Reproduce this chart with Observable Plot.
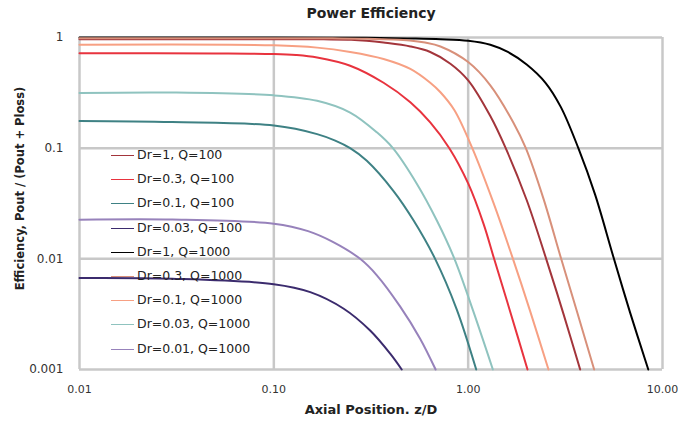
<!DOCTYPE html>
<html>
<head>
<meta charset="utf-8">
<script src="https://cdn.jsdelivr.net/npm/d3@7"></script>
<script src="https://cdn.jsdelivr.net/npm/@observablehq/plot@0.6"></script>
<style>
  body { margin: 0; background: #fff; font-family: "DejaVu Sans", sans-serif; }
  #wrap { position: relative; width: 678px; height: 426px; overflow: hidden; }
  #title { position: absolute; left: 0; top: 5px; width: 742px; text-align: center; font-weight: bold; font-size: 14px; color: #222; }
  #chart { position: absolute; left: 0; top: 26px; }
  #legend { position: absolute; left: 0; top: 0; }
  .item { position: absolute; left: 111px; height: 16px; font-size: 12.5px; color: #222; white-space: nowrap; }
  .sw { position: absolute; left: 0; top: 8px; width: 23px; height: 0; border-top: 1.6px solid; }
  .lb { position: absolute; left: 26px; top: 0; line-height: 16px; }
  #chart svg g[aria-label="x-axis tick label"] text,
  #chart svg g[aria-label="x-axis"] text { font-size: 11px; }
</style>
</head>
<body>
<div id="wrap">
  <div id="title"></div>
  <div id="chart"></div>
  <div id="legend"></div>
</div>
<script>
// ---- data ----
const seriesNames = ["Dr=1, Q=100", "Dr=0.3, Q=100", "Dr=0.1, Q=100", "Dr=0.03, Q=100", "Dr=1, Q=1000", "Dr=0.3, Q=1000", "Dr=0.1, Q=1000", "Dr=0.03, Q=1000", "Dr=0.01, Q=1000"];
const seriesColors = ["#a3353b", "#e8333e", "#3e8184", "#3b2b6d", "#000000", "#d8907a", "#f7a083", "#8fc3bf", "#9782bb"];

const xTicks = [0.01, 0.1, 1, 10];
const xTickLabels = ["0.01", "0.10", "1.00", "10.00"];
const yTicks = [0.001, 0.01, 0.1, 1];
const yTickLabels = ["0.001", "0.01", "0.1", "1"];

const titleText = "Power Efficiency";
const xLabel = "Axial Position. z/D";
const yLabel = "Efficiency, Pout / (Pout + Ploss)";

// Dr=1, Q=100
const xDr1Q100 = [0.01, 0.1, 0.18, 0.25, 0.3, 0.367, 0.504, 0.638, 0.81, 1.0, 1.3, 1.56, 2.0, 2.52, 3.09, 3.77];
const yDr1Q100 = [0.965, 0.965, 0.962, 0.955, 0.935, 0.90, 0.83, 0.74, 0.58, 0.41, 0.195, 0.1, 0.034, 0.01, 0.0032, 0.001];
// Dr=0.3, Q=100
const xDr03Q100 = [0.01, 0.05, 0.1, 0.13, 0.167, 0.247, 0.367, 0.504, 0.638, 0.80, 1.0, 1.2, 1.36, 1.64, 2.02];
const yDr03Q100 = [0.72, 0.718, 0.71, 0.695, 0.66, 0.556, 0.39, 0.26, 0.171, 0.1, 0.048, 0.0207, 0.01, 0.0034, 0.001];
// Dr=0.1, Q=100
const xDr01Q100 = [0.01, 0.03, 0.1, 0.167, 0.207, 0.247, 0.301, 0.413, 0.524, 0.676, 0.873, 1.1];
const yDr01Q100 = [0.176, 0.172, 0.16, 0.134, 0.117, 0.1, 0.077, 0.041, 0.0222, 0.01, 0.0035, 0.001];
// Dr=0.03, Q=100
const xDr003Q100 = [0.01, 0.03, 0.1, 0.154, 0.229, 0.313, 0.397, 0.455];
const yDr003Q100 = [0.0067, 0.0066, 0.0059, 0.005, 0.00354, 0.00225, 0.00139, 0.001];
// Dr=1, Q=1000
const xDr1Q1000 = [0.01, 0.1, 0.3, 0.5, 0.72, 1.0, 1.3, 1.6, 2.0, 2.5, 3.0, 3.69, 4.5, 5.58, 6.8, 8.45];
const yDr1Q1000 = [1.0, 1.0, 0.993, 0.98, 0.965, 0.935, 0.86, 0.74, 0.57, 0.39, 0.235, 0.1, 0.038, 0.0105, 0.0033, 0.001];
// Dr=0.3, Q=1000
const xDr03Q1000 = [0.01, 0.1, 0.2, 0.3, 0.5, 0.6, 0.72, 1.0, 1.3, 1.71, 1.98, 2.44, 3.01, 3.62, 4.45];
const yDr03Q1000 = [0.985, 0.985, 0.982, 0.975, 0.94, 0.90, 0.83, 0.60, 0.37, 0.17, 0.1, 0.035, 0.01, 0.0034, 0.001];
// Dr=0.1, Q=1000
const xDr01Q1000 = [0.01, 0.1, 0.167, 0.247, 0.367, 0.504, 0.638, 0.72, 0.85, 1.05, 1.35, 1.70, 2.08, 2.59];
const yDr01Q1000 = [0.86, 0.85, 0.81, 0.74, 0.64, 0.52, 0.39, 0.32, 0.22, 0.1, 0.032, 0.01, 0.0034, 0.001];
// Dr=0.03, Q=1000
const xDr003Q1000 = [0.01, 0.03, 0.1, 0.167, 0.247, 0.339, 0.41, 0.545, 0.69, 0.85, 1.06, 1.34];
const yDr003Q1000 = [0.315, 0.318, 0.30, 0.268, 0.21, 0.139, 0.1, 0.0475, 0.0222, 0.01, 0.0034, 0.001];
// Dr=0.01, Q=1000
const xDr001Q1000 = [0.01, 0.03, 0.1, 0.15, 0.2, 0.278, 0.339, 0.447, 0.566, 0.68];
const yDr001Q1000 = [0.0226, 0.0227, 0.0208, 0.0178, 0.0143, 0.01, 0.0071, 0.0037, 0.0019, 0.001];

const seriesX = [xDr1Q100, xDr03Q100, xDr01Q100, xDr003Q100, xDr1Q1000, xDr03Q1000, xDr01Q1000, xDr003Q1000, xDr001Q1000];
const seriesY = [yDr1Q100, yDr03Q100, yDr01Q100, yDr003Q100, yDr1Q1000, yDr03Q1000, yDr01Q1000, yDr003Q1000, yDr001Q1000];

const rows = seriesNames.flatMap((name, i) =>
  seriesX[i].map((x, j) => ({ series: name, x, y: seriesY[i][j] })));

document.getElementById("title").textContent = titleText;

const gridColor = "#c8c8c8";
const chart = Plot.plot({
  width: 678,
  height: 400,
  marginLeft: 79,
  marginRight: 16,
  marginTop: 11,
  marginBottom: 57,
  style: { fontFamily: "'DejaVu Sans', sans-serif", fontSize: "12px", color: "#333", background: "transparent", overflow: "visible" },
  x: { type: "log", domain: [0.01, 10], ticks: xTicks, tickFormat: d => xTickLabels[xTicks.indexOf(d)], tickSize: 0, tickPadding: 16, label: null },
  y: { type: "log", domain: [0.001, 1], ticks: yTicks, tickFormat: d => yTickLabels[yTicks.indexOf(d)], tickSize: 0, tickPadding: 16, label: null },
  color: { domain: seriesNames, range: seriesColors },
  marks: [
    Plot.ruleX(xTicks, { stroke: gridColor, strokeWidth: 2.5 }),
    Plot.ruleY(yTicks, { stroke: gridColor, strokeWidth: 2.5 }),
    Plot.line(rows, { x: "x", y: "y", z: "series", stroke: "series", strokeWidth: 2, curve: "catmull-rom" }),
    Plot.text([xLabel], { text: d => d, frameAnchor: "bottom", dy: 44, fontWeight: "bold", fontSize: 13, fill: "#222" }),
    Plot.text([yLabel], { text: d => d, frameAnchor: "left", textAnchor: "middle", dx: -59, dy: -15, rotate: -90, fontWeight: "bold", fontSize: 11.5, fill: "#222" })
  ]
});
document.getElementById("chart").appendChild(chart);

// legend (inside plot area, upper left)
const legend = document.getElementById("legend");
seriesNames.forEach((name, i) => {
  const item = document.createElement("div");
  item.className = "item";
  item.style.top = (147 + i * 24.2) + "px";
  const sw = document.createElement("div");
  sw.className = "sw";
  sw.style.borderTopColor = seriesColors[i];
  const lb = document.createElement("div");
  lb.className = "lb";
  lb.textContent = name;
  item.appendChild(sw);
  item.appendChild(lb);
  legend.appendChild(item);
});
</script>
</body>
</html>
